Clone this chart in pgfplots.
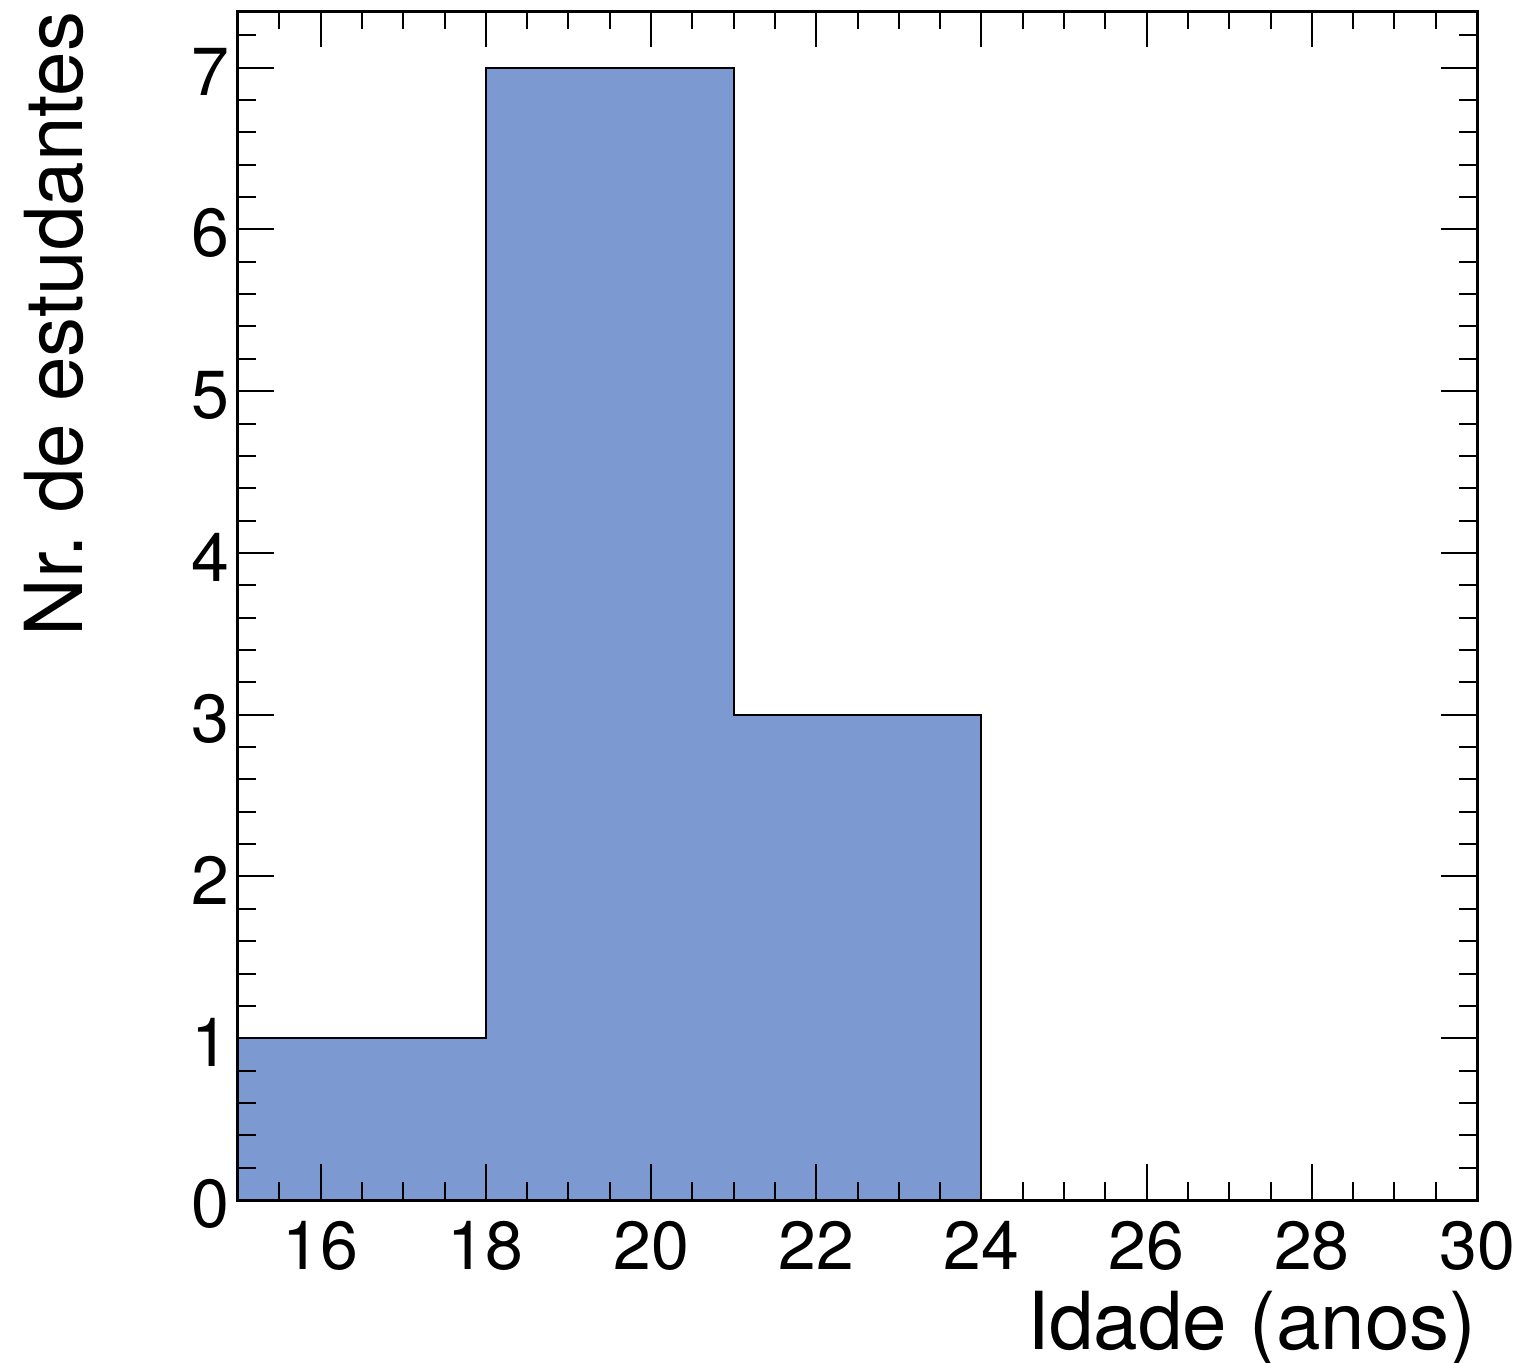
\documentclass[border=0pt]{standalone}
\usepackage{fontspec}
\setmainfont{TeX Gyre Heros}
\usepackage{pgfplots}
\pgfplotsset{compat=1.18}

\definecolor{histblue}{RGB}{125,153,209}

\begin{document}
\frenchspacing
\begin{tikzpicture}
\begin{axis}[
    scale only axis,
    width=309.75pt, height=297.25pt,
    xmin=15, xmax=30,
    ymin=0, ymax=7.35,
    axis on top,
    axis line style={line width=0.75pt},
    tick style={line width=0.5pt, black},
    tick align=inside,
    xtick pos=both, ytick pos=both,
    ticklabel pos=left,
    xtick={16,18,...,30},
    ytick={0,1,...,7},
    minor xtick={15,15.5,...,30},
    minor ytick={0,0.2,...,7.3},
    major tick length=9pt,
    minor tick length=4.5pt,
    /pgf/number format/assume math mode=true,
    ticklabel style={font=\fontsize{17}{20}\selectfont},
    xticklabel style={anchor=north, inner sep=0pt, yshift=-5pt},
    yticklabel style={anchor=east, inner sep=0pt, xshift=-2pt, yshift=-1pt},
    label style={font=\fontsize{20}{24}\selectfont, inner sep=0pt},
    xlabel={Idade (anos)},
    ylabel={Nr.\ de estudantes},
    xlabel style={at={(axis description cs:1,-0.1253)}, anchor=base east},
    ylabel style={at={(axis description cs:-0.1251,1)}, anchor=base east, rotate=0},
]
% Age histogram: bins of 3 years, counts per bin
\addplot[const plot, fill=histblue, draw=black, line width=0.5pt]
    coordinates {(15,1) (18,7) (21,3) (24,0) (27,0) (30,0)} \closedcycle;
\end{axis}
\pgfresetboundingbox
\path[use as bounding box]
    ([shift={(-59.5pt,-40.5pt)}]current axis.south west)
    rectangle ([shift={(320pt,300pt)}]current axis.south west);
\end{tikzpicture}
\end{document}
